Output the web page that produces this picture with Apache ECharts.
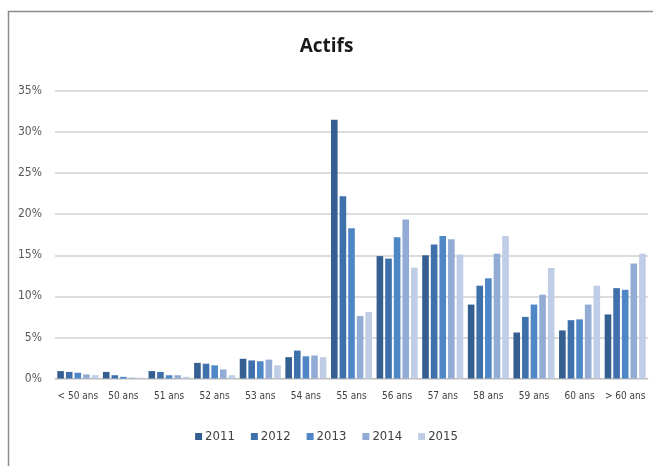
<!DOCTYPE html>
<html><head><meta charset="utf-8">
<script src="https://cdn.jsdelivr.net/npm/echarts@6/dist/echarts.min.js"></script>
<style>html,body{margin:0;padding:0;background:#fff}#c{width:653px;height:466px}</style>
</head><body><div id="c"></div>
<script>
var categories = ['< 50 ans','50 ans','51 ans','52 ans','53 ans','54 ans','55 ans','56 ans','57 ans','58 ans','59 ans','60 ans','> 60 ans'];
var years = ['2011','2012','2013','2014','2015'];
var v2011 = [0.9, 0.8, 0.9, 1.9, 2.4, 2.6, 31.5, 14.9, 15.0, 9.0, 5.6, 5.85, 7.8];
var v2012 = [0.8, 0.4, 0.8, 1.8, 2.2, 3.4, 22.2, 14.6, 16.3, 11.3, 7.5, 7.1, 11.0];
var v2013 = [0.7, 0.2, 0.4, 1.6, 2.1, 2.7, 18.3, 17.2, 17.35, 12.2, 9.0, 7.2, 10.8];
var v2014 = [0.5, 0.1, 0.4, 1.1, 2.3, 2.8, 7.6, 19.35, 16.95, 15.2, 10.2, 9.0, 14.0];
var v2015 = [0.4, 0.1, 0.2, 0.4, 1.6, 2.6, 8.1, 13.5, 15.1, 17.35, 13.45, 11.3, 15.2];
var colors = ['#355f91','#3e70ab','#4f86c6','#93acd6','#bfcde6'];
var seriesData = [v2011, v2012, v2013, v2014, v2015];

var chart = echarts.init(document.getElementById('c'));
var font = '"Liberation Sans Narrow","DejaVu Sans Condensed","Liberation Sans",sans-serif';
chart.setOption({
  animation: false,
  color: colors,
  graphic: [{
    type: 'rect', silent: true,
    shape: {x: 8.5, y: 11.5, width: 700, height: 500},
    style: {fill: 'none', stroke: '#8c8c8c', lineWidth: 1.5}
  }],
  title: {
    text: 'Actifs', left: 'center', top: 32,
    textStyle: {fontFamily: '"Open Sans","Liberation Sans",sans-serif', fontWeight: 'bold', fontSize: 19, color: '#1a1a1a'}
  },
  legend: {
    data: years, bottom: 18, left: 'center',
    itemWidth: 7, itemHeight: 7, itemGap: 16, icon: 'rect',
    textStyle: {fontFamily: font, fontSize: 13, color: '#404040', padding: [0,0,0,-2]}
  },
  grid: {left: 55, right: 5, top: 91, bottom: 87.5},
  xAxis: {
    type: 'category', data: categories,
    axisTick: {show: false},
    axisLine: {lineStyle: {color: '#bfbfbf', width: 1}},
    axisLabel: {interval: 0, fontFamily: font, fontSize: 10, color: '#404040', margin: 13}
  },
  yAxis: {
    type: 'value', min: 0, max: 35, interval: 5,
    axisLabel: {formatter: '{value}%', fontFamily: font, fontSize: 12, color: '#595959', margin: 13},
    splitLine: {lineStyle: {color: '#d0d0d0', width: 1.5}},
    axisLine: {show: false}, axisTick: {show: false}
  },
  series: seriesData.map(function (d, i) {
    return {name: years[i], type: 'bar', data: d, barGap: '30%', barCategoryGap: '10%'};
  })
});
</script></body></html>
